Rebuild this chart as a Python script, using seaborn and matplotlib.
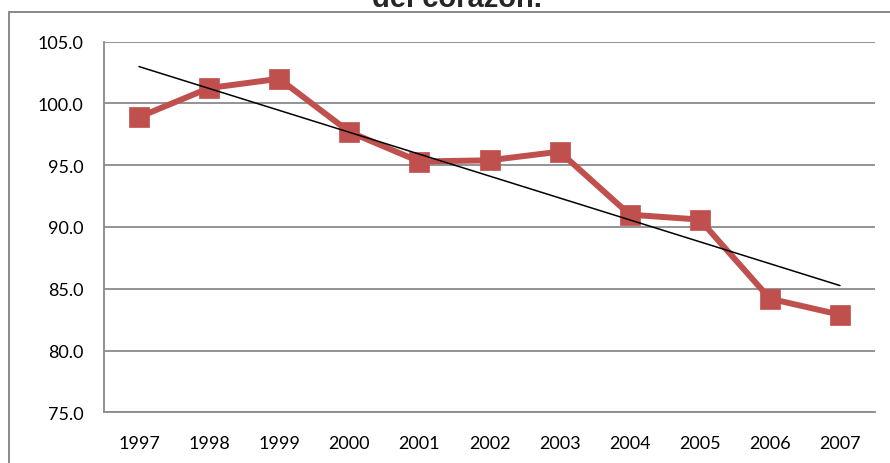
import numpy as np
import pandas as pd
import matplotlib
matplotlib.use("Agg")
import matplotlib.pyplot as plt
from matplotlib.patches import Rectangle
import seaborn as sns

# Data
years = ["1997", "1998", "1999", "2000", "2001", "2002", "2003", "2004", "2005", "2006", "2007"]
values = [98.9, 101.25, 102.0, 97.7, 95.3, 95.4, 96.1, 91.0, 90.6, 84.2, 82.9]
y_ticks = [75.0, 80.0, 85.0, 90.0, 95.0, 100.0, 105.0]
title_text = "del corazón."

sns.set_style("white")
plt.rcParams["font.family"] = ["Lato", "DejaVu Sans"]

df = pd.DataFrame({"pos": np.arange(len(years)), "year": years, "value": values})

fig = plt.figure(figsize=(8.9, 4.64), dpi=100)
ax = fig.add_axes([104 / 890, 1 - 413.3 / 464, (875 - 104) / 890, (413.3 - 42.7) / 464])

grid_col = "#8a8a8a"
red = "#C0504D"

# Horizontal gridlines
for v in y_ticks:
    ax.axhline(v, color=grid_col, lw=1.3, zorder=0)

# Linear trend line fitted to the series
coef = np.polyfit(df["pos"], df["value"], 1)
trend = pd.DataFrame({"pos": df["pos"], "trend": np.polyval(coef, df["pos"])})
sns.lineplot(data=trend, x="pos", y="trend", ax=ax, color="black", lw=1.1, zorder=4)

# Main series
sns.lineplot(data=df, x="pos", y="value", ax=ax, color=red, lw=4.3,
             marker="s", markersize=14, markeredgecolor=red, markeredgewidth=0.5,
             zorder=3)

ax.set_xlim(-0.5, len(years) - 0.5)
ax.set_ylim(75, 105)
ax.set_xlabel("")
ax.set_ylabel("")

# Category labels at centres, tick marks at category boundaries
ax.set_xticks(df["pos"])
ax.set_xticklabels(years)
ax.set_xticks(np.arange(-0.5, len(years)), minor=True)
ax.tick_params(axis="x", which="major", length=0, pad=16, labelsize=13, colors="black")
ax.tick_params(axis="x", which="minor", length=5, width=1.3, color=grid_col, direction="out")

ax.set_yticks(y_ticks)
ax.set_yticklabels([f"{v:.1f}" for v in y_ticks])
ax.tick_params(axis="y", which="major", length=4.5, width=1.3, color=grid_col,
               direction="out", pad=10.5, labelsize=13, labelcolor="black")

for side in ["top", "right"]:
    ax.spines[side].set_visible(False)
for side in ["left", "bottom"]:
    ax.spines[side].set_color(grid_col)
    ax.spines[side].set_linewidth(1.3)

# Outer chart border
fig.patches.append(Rectangle((8.5 / 890, -0.05), 1.1, 1 - 12.7 / 464 + 0.05,
                             transform=fig.transFigure, fill=False,
                             edgecolor=grid_col, lw=1.4))

fig.text(457 / 890, 1 - 7 / 464, title_text, ha="center", va="baseline",
         fontsize=21, fontweight="bold", family=["Liberation Sans", "DejaVu Sans"])

fig.savefig("out.png", dpi=100)
